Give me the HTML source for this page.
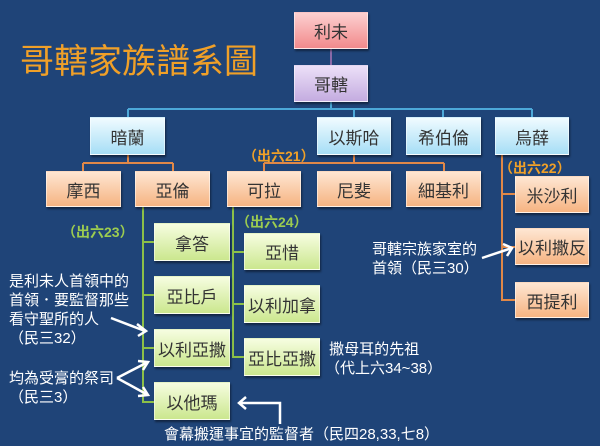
<!DOCTYPE html><html><head><meta charset="utf-8"><style>
body{margin:0;width:600px;height:446px;background:#1f4478;overflow:hidden;position:relative;font-family:"Liberation Sans","Noto Sans CJK TC",sans-serif}
.b{position:absolute;display:flex;align-items:center;justify-content:center;font-size:17px;color:#333;box-shadow:1px 2px 2px rgba(0,0,0,.45);box-sizing:border-box;border:1px solid rgba(255,255,255,.5)}
.p{background:linear-gradient(#fcd0d0,#f28a8c)}
.l{background:linear-gradient(#ece0f8,#c4ace0)}
.c{background:linear-gradient(#f0fbff,#a6def6)}
.o{background:linear-gradient(#fee6d2,#f6b482)}
.g{background:linear-gradient(#f6fde0,#cbe78e)}
.t{position:absolute;color:#fff;font-size:15px;line-height:19px;white-space:nowrap}
.n{position:absolute;font-size:14px;font-weight:bold;white-space:nowrap}
svg{position:absolute;left:0;top:0}
</style></head><body>
<div style="position:absolute;left:20px;top:34px;font-size:34px;color:#f0a028;letter-spacing:0px">哥轄家族譜系圖</div>
<svg width="600" height="446" fill="none" stroke-width="2">
<path d="M331 49V65" stroke="#8a6aa8"/>
<path d="M331 102V109M128 109H532M128 109V117M354 109V117M443 109V117M532 109V117" stroke="#4ca8d8"/>
<path d="M128 155V163M83 163H173M83 163V171M173 163V171M354 155V163M264 163H444M264 163V171M444 163V171" stroke="#e08848"/>
<path d="M502 155V300H515M502 194H515M502 247H515" stroke="#e08848"/>
<path d="M143 207V402H154M143 242H154M143 295H154M143 348H154" stroke="#8cc048"/>
<path d="M233 207V357H244M233 252H244M233 304H244" stroke="#8cc048"/>
<g stroke="#fff" stroke-width="2.5">
<path d="M111 318L145 331M137 324L146 331L138 336"/>
<path d="M117 378L148 362M138 361L148 362L143 370"/>
<path d="M117 378L148 395M143 387L148 395L138 396"/>
<path d="M482 258L512 248M503 244L512 248L507 256"/>
<path d="M280 424V403H239M246 397L239 403L246 409"/>
</g></svg>
<div class="b p" style="left:294px;top:12px;width:74px;height:37px">利未</div>
<div class="b l" style="left:294px;top:65px;width:74px;height:37px">哥轄</div>
<div class="b c" style="left:90px;top:117px;width:75px;height:38px">暗蘭</div>
<div class="b c" style="left:317px;top:117px;width:74px;height:38px">以斯哈</div>
<div class="b c" style="left:406px;top:117px;width:75px;height:38px">希伯倫</div>
<div class="b c" style="left:495px;top:117px;width:74px;height:38px">烏薛</div>
<div class="b o" style="left:46px;top:171px;width:75px;height:36px">摩西</div>
<div class="b o" style="left:135px;top:171px;width:75px;height:36px">亞倫</div>
<div class="b o" style="left:227px;top:171px;width:74px;height:36px">可拉</div>
<div class="b o" style="left:317px;top:171px;width:74px;height:36px">尼斐</div>
<div class="b o" style="left:406px;top:171px;width:75px;height:36px">細基利</div>
<div class="b o" style="left:515px;top:176px;width:74px;height:37px">米沙利</div>
<div class="b o" style="left:515px;top:228px;width:74px;height:37px">以利撒反</div>
<div class="b o" style="left:515px;top:282px;width:74px;height:36px">西提利</div>
<div class="b g" style="left:154px;top:223px;width:76px;height:38px">拿答</div>
<div class="b g" style="left:154px;top:276px;width:76px;height:38px">亞比戶</div>
<div class="b g" style="left:154px;top:329px;width:76px;height:38px">以利亞撒</div>
<div class="b g" style="left:154px;top:382px;width:76px;height:38px">以他瑪</div>
<div class="b g" style="left:244px;top:233px;width:76px;height:37px">亞惜</div>
<div class="b g" style="left:244px;top:285px;width:76px;height:38px">以利加拿</div>
<div class="b g" style="left:244px;top:338px;width:76px;height:38px">亞比亞撒</div>
<div class="n" style="left:243px;top:146px;color:#f0a028">（出六21）</div>
<div class="n" style="left:499px;top:158px;color:#f0a028">（出六22）</div>
<div class="n" style="left:62px;top:222px;color:#9ccc50">（出六23）</div>
<div class="n" style="left:236px;top:212px;color:#9ccc50">（出六24）</div>
<div class="t" style="left:9px;top:272px">是利未人首領中的<br>首領．要監督那些<br>看守聖所的人<br>（民三32）</div>
<div class="t" style="left:9px;top:369px">均為受膏的祭司<br>（民三3）</div>
<div class="t" style="left:325px;top:340px">&nbsp;撒母耳的先祖<br>（代上六34~38）</div>
<div class="t" style="left:372px;top:240px">哥轄宗族家室的<br>首領（民三30）</div>
<div class="t" style="left:164px;top:425px">會幕搬運事宜的監督者（民四28,33,七8）</div>
</body></html>
